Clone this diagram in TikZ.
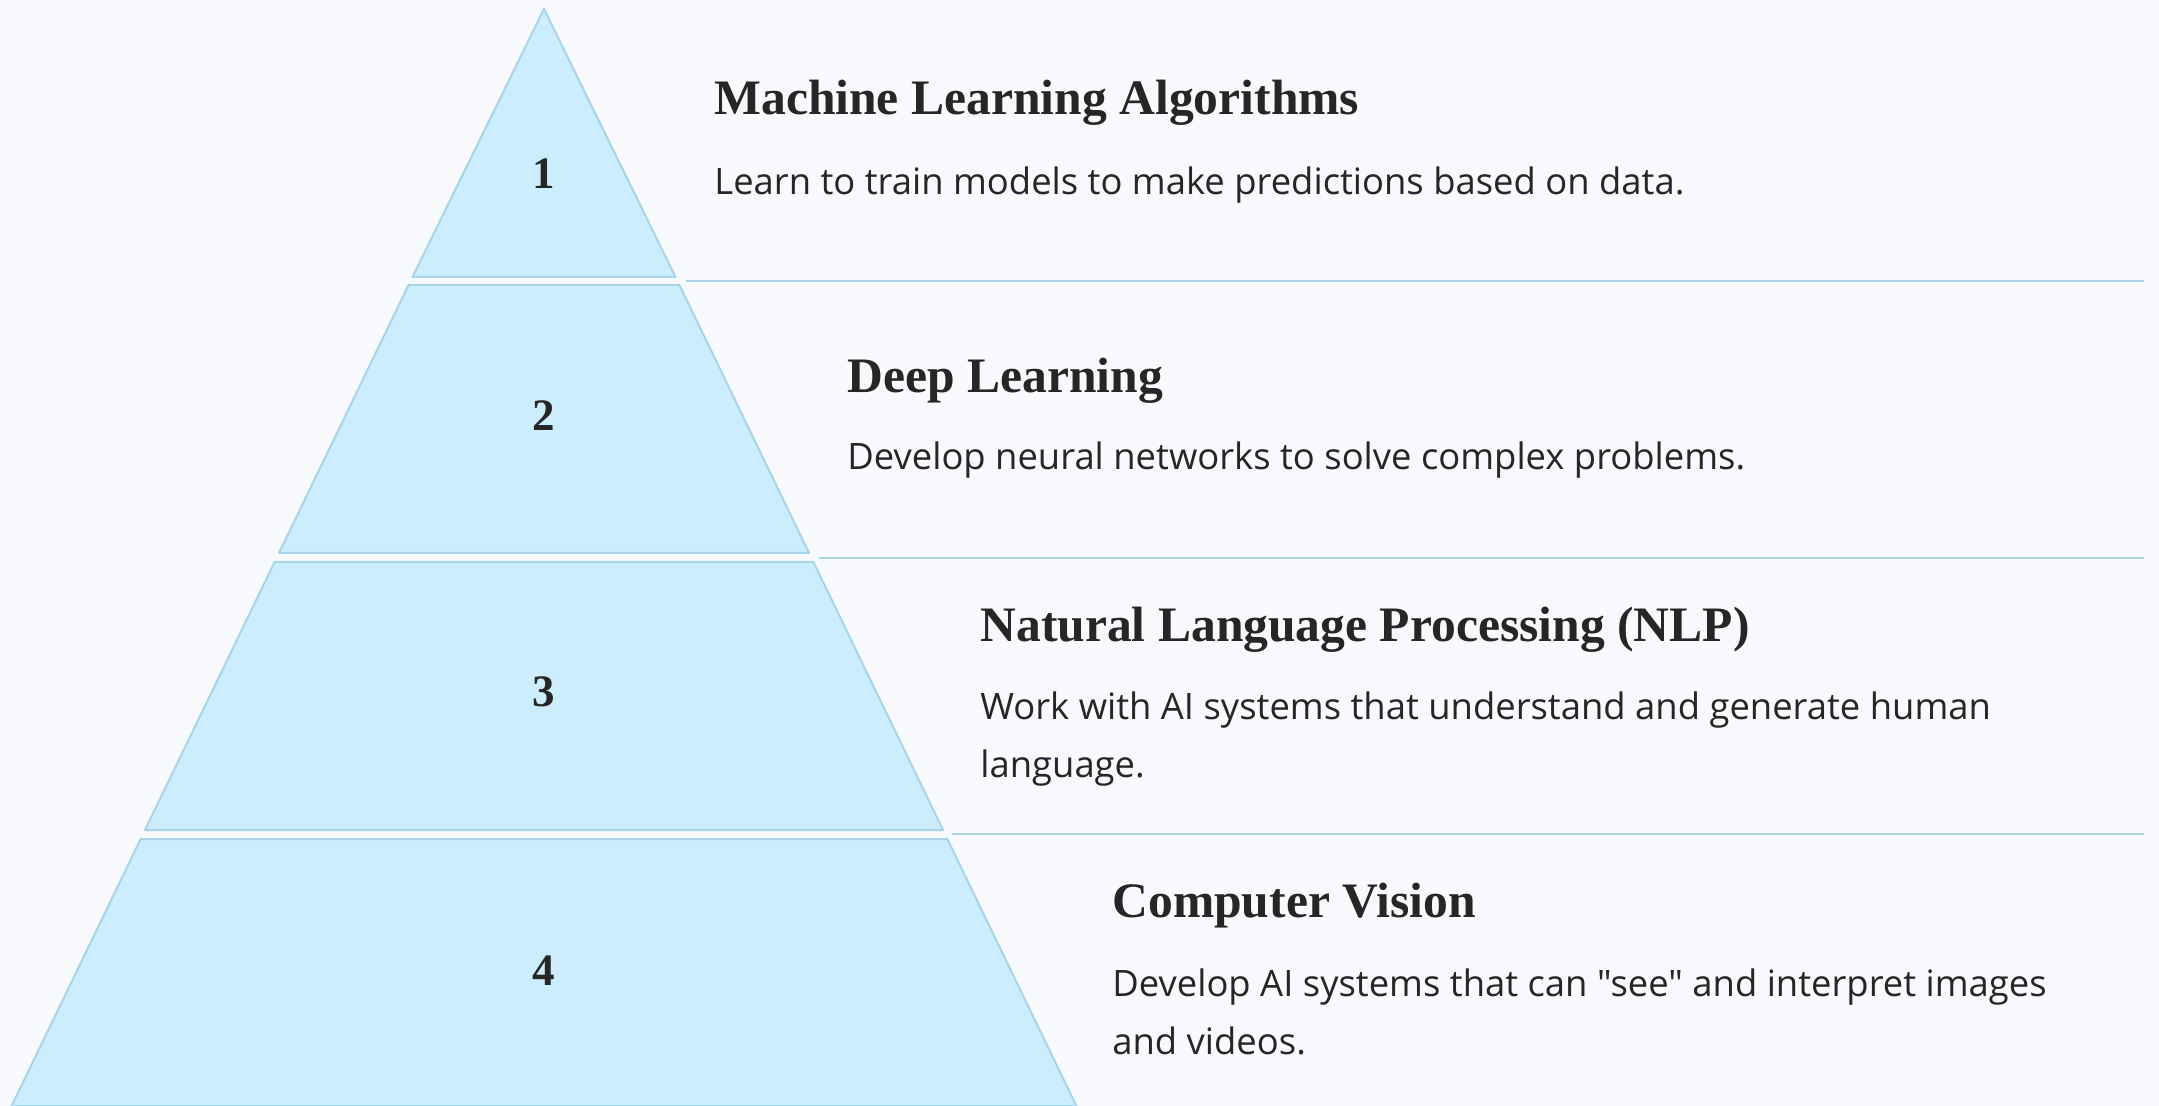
\documentclass[tikz,border=0pt]{standalone}
\usepackage{fontspec}
\setmainfont{Liberation Serif}
\newfontfamily\descfont{Open Sans}
\usepackage{tikz}
\usetikzlibrary{calc}
\usetikzlibrary{positioning}
\definecolor{tierfill}{HTML}{CCEDFE}
\definecolor{tierline}{HTML}{A9D4E8}
\definecolor{pagebg}{HTML}{F7F9FC}
\definecolor{ink}{HTML}{262626}

\begin{document}
\begin{tikzpicture}[x=0.5pt,y=-0.5pt,
                    tier/.style={fill=tierfill,draw=tierline,line width=1pt,line join=round},
                    rule/.style={draw=tierline,line width=1pt},
                    num/.style={inner sep=0pt,anchor=base,text=ink,
                                font=\bfseries\fontsize{22.5}{26}\selectfont},
                    title/.style={inner sep=0pt,anchor=base west,text=ink,
                                  font=\bfseries\fontsize{24.8}{28}\selectfont},
                    desc/.style={inner sep=0pt,anchor=base west,align=left,text=ink,
                                 font=\descfont\fontsize{18.2}{29}\selectfont}]
 \fill[pagebg] (0,0) rectangle (2159,1106);
 \useasboundingbox (0,0) rectangle (2159,1106);

 \draw[tier] (544,9) -- (675.5,277) -- (412.5,277) -- cycle;
 \draw[tier] (408.6,285) -- (679.4,285) -- (809,553) -- (279,553) -- cycle;
 \draw[tier] (274.6,562) -- (813.4,562) -- (943,830) -- (145,830) -- cycle;
 \draw[tier] (140.7,839) -- (947.3,839) -- (1076.4,1106) -- (11.6,1106) -- cycle;

 \coordinate (r1a) at (686,281);   \coordinate (r1b) at (2144,281);
 \coordinate (r2a) at (819,558);   \coordinate (r2b) at (2144,558);
 \coordinate (r3a) at (952,834);   \coordinate (r3b) at (2144,834);
 \draw[rule] (r1a) -- (r1b);
 \draw[rule] (r2a) -- (r2b);
 \draw[rule] (r3a) -- (r3b);

 \node[num] (n1) at (544,189) {1};
 \node[num] (n2) at (544,431) {2};
 \node[num] (n3) at (544,707) {3};
 \node[num] (n4) at (544,985) {4};

 \node[title] (t1) at (714,115) {Machine Learning Algorithms};
 \node[desc]  (d1) at (714,195) {Learn to train models to make predictions based on data.};

 \node[title] (t2) at (847,393) {Deep Learning};
 \node[desc]  (d2) at (847,470) {Develop neural networks to solve complex problems.};

 \node[title] (t3) at (980,642) {Natural Language Processing (NLP)};
 \node[desc]  (d3) at (980,777) {Work with AI systems that understand and generate human\\language.};

 \node[title] (t4) at (1112,917) {Computer Vision};
 \node[desc]  (d4) at (1112,1054) {Develop AI systems that can "see" and interpret images\\and videos.};
\end{tikzpicture}
\end{document}
